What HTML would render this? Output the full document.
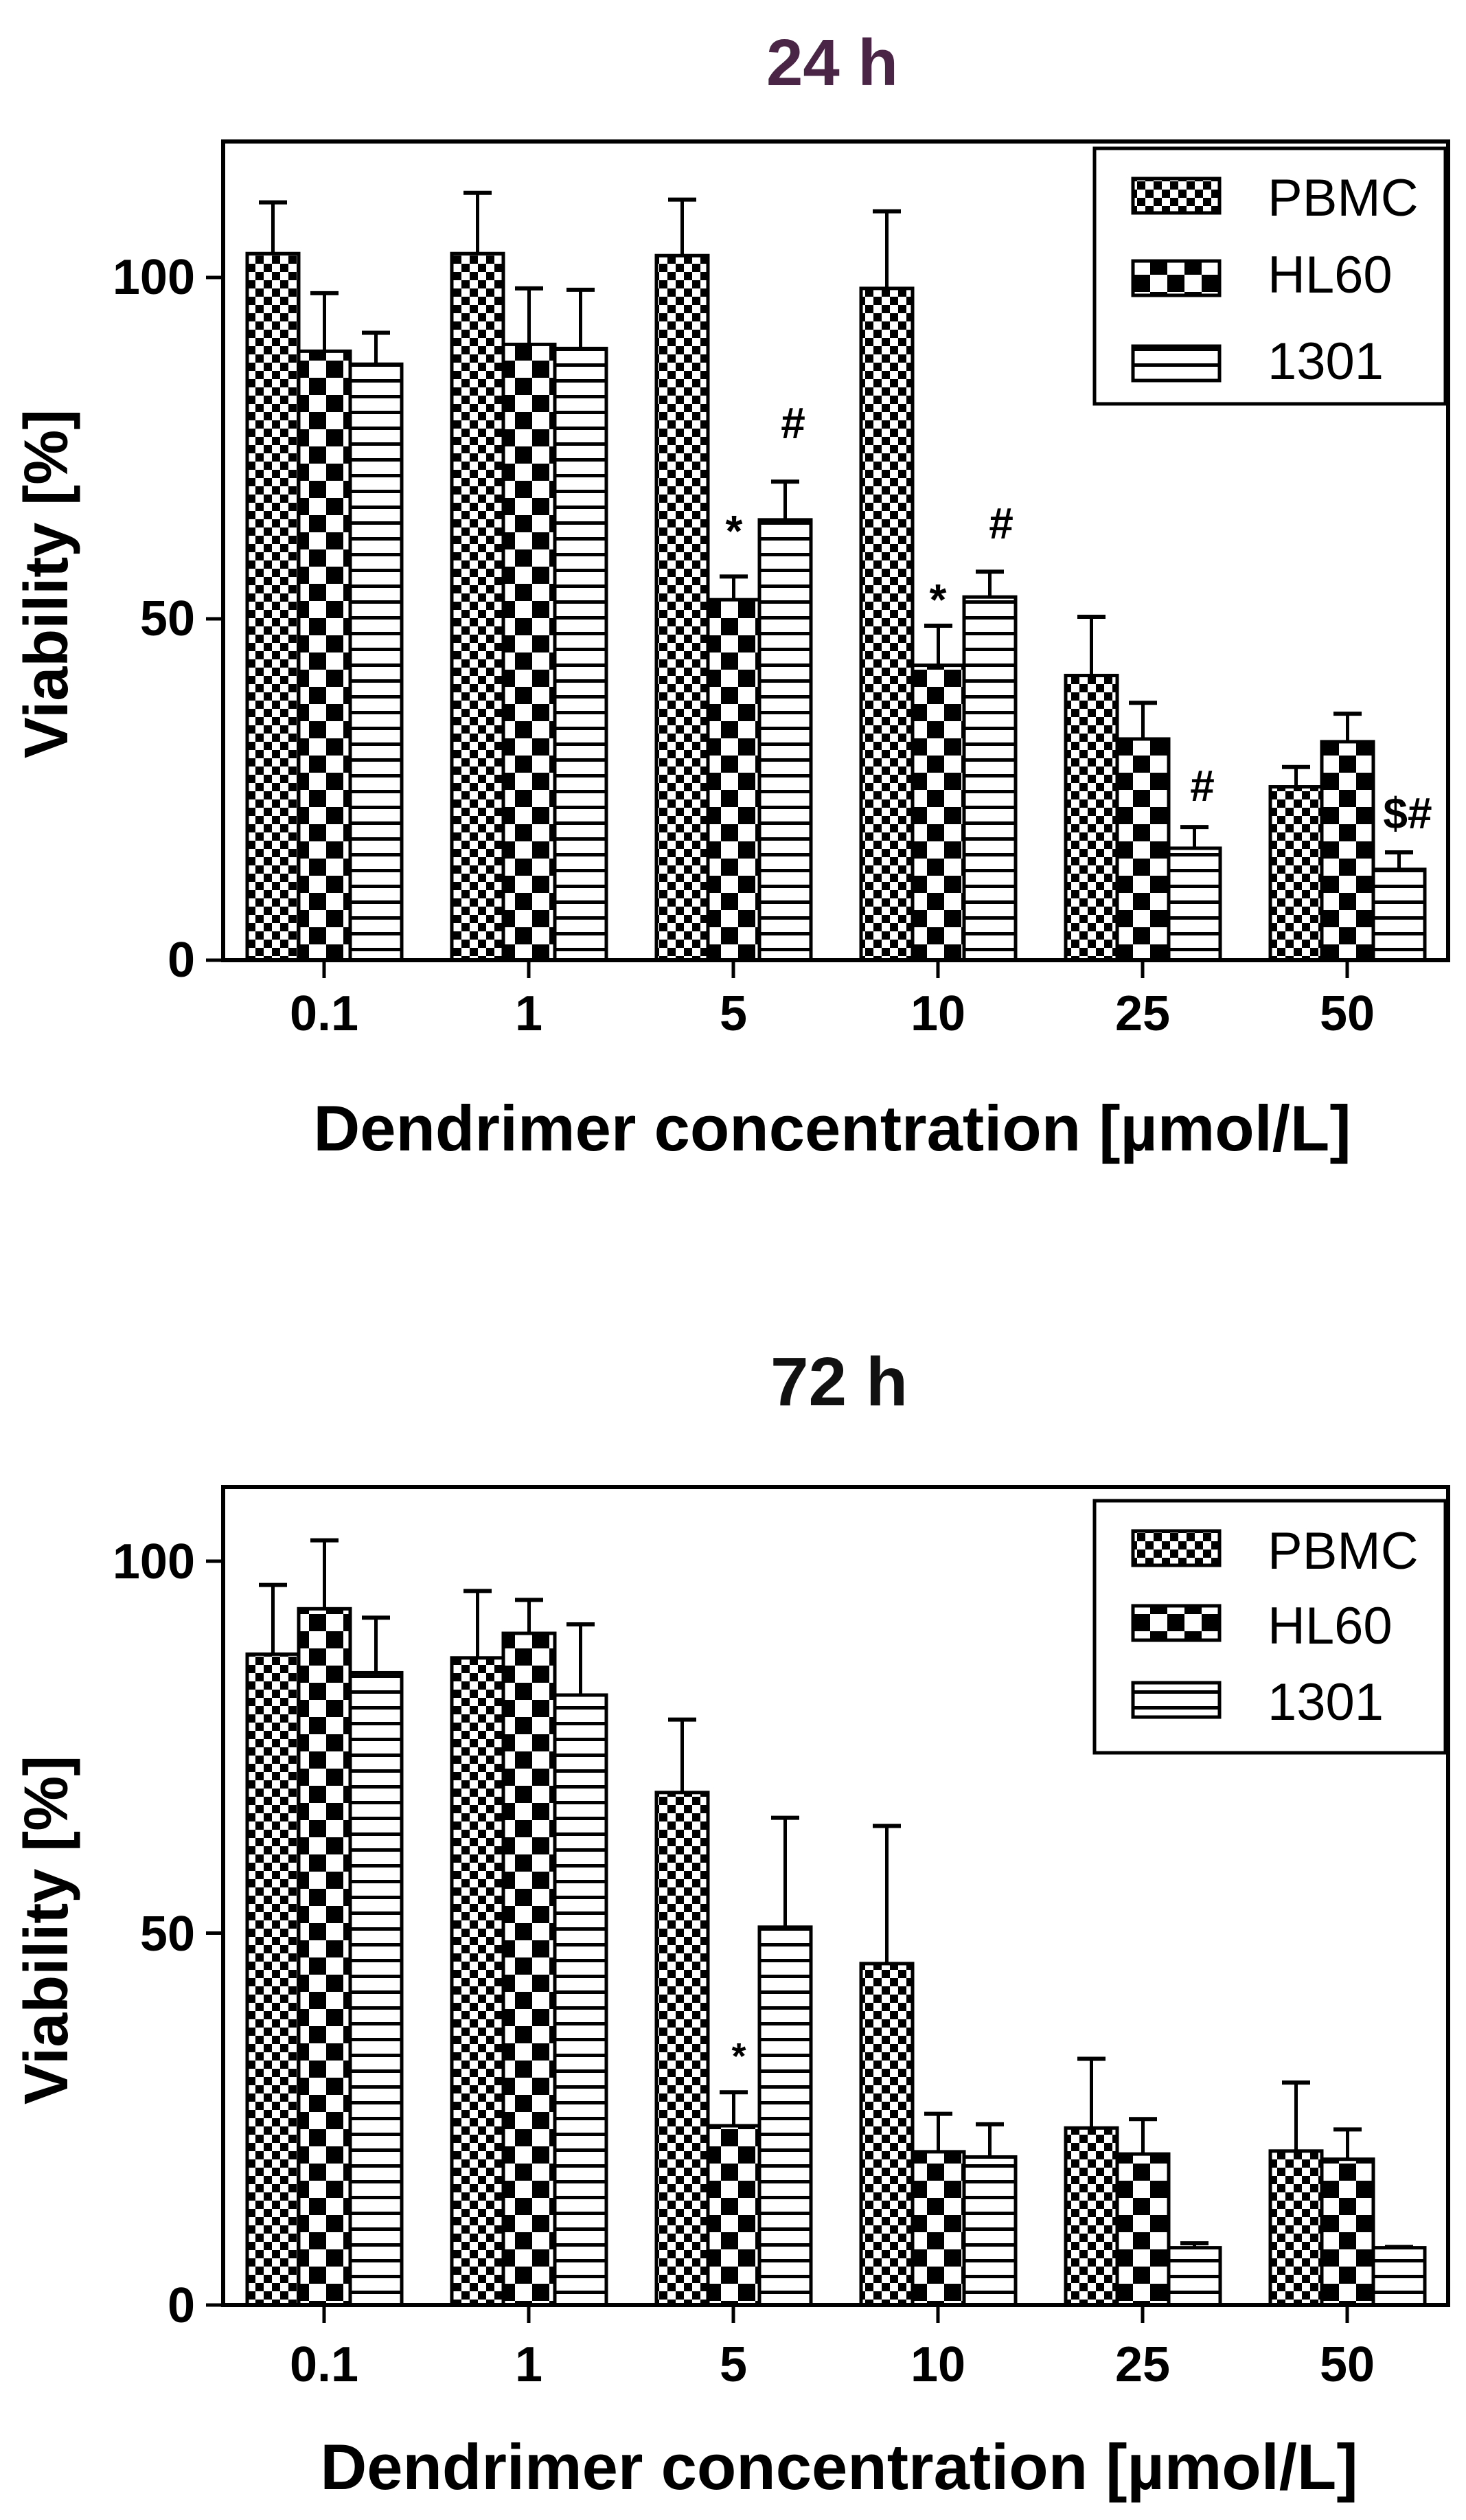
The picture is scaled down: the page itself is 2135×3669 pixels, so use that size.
<!DOCTYPE html>
<html><head><meta charset="utf-8"><style>
html,body{margin:0;padding:0;background:#fff;}
svg{display:block;}
text{font-family:"Liberation Sans",Arial,sans-serif;}
</style></head><body>
<svg id="s" width="2135" height="3669" viewBox="0 0 2135 3669" xmlns="http://www.w3.org/2000/svg">
<defs>
<pattern id="pb" width="24" height="24" patternUnits="userSpaceOnUse">
<rect width="24" height="24" fill="#fff"/>
<rect x="0" y="0" width="12" height="12" fill="#000"/>
<rect x="12" y="12" width="12" height="12" fill="#000"/>
<rect x="3" y="3" width="6" height="6" fill="#000"/>
</pattern>
<pattern id="hl" width="50" height="50" patternUnits="userSpaceOnUse">
<rect width="50" height="50" fill="#fff"/>
<rect x="0" y="0" width="25" height="25" fill="#000"/>
<rect x="25" y="25" width="25" height="25" fill="#000"/>
</pattern>
<pattern id="st" width="24" height="23" patternUnits="userSpaceOnUse">
<rect width="24" height="23" fill="#fff"/>
<rect x="0" y="0" width="24" height="5" fill="#000"/>
</pattern>
</defs>

<!-- 24 h -->
<text x="1212" y="124" font-size="96" font-weight="bold" fill="#4a2545" text-anchor="middle">24 h</text>
<g id="c1"></g>
<text transform="translate(98,850) rotate(-90)" font-size="90" font-weight="bold" text-anchor="middle">Viability [%]</text>
<g font-size="72" font-weight="bold" text-anchor="end">
<text x="284" y="428">100</text><text x="284" y="925">50</text><text x="284" y="1422">0</text>
</g>
<g font-size="72" font-weight="bold" text-anchor="middle">
<text x="472" y="1500">0.1</text><text x="770" y="1500">1</text><text x="1068" y="1500">5</text>
<text x="1366" y="1500">10</text><text x="1664" y="1500">25</text><text x="1962" y="1500">50</text>
</g>
<text x="1212" y="1675" font-size="94" font-weight="bold" text-anchor="middle">Dendrimer concentration [µmol/L]</text>
<g font-size="64" font-weight="bold" text-anchor="middle">
<text x="1069" y="795">*</text><text x="1155" y="638">#</text>
<text x="1366" y="895">*</text><text x="1458" y="784">#</text>
<text x="1751" y="1166">#</text><text x="2050" y="1206">$#</text>
</g>
<g font-size="76">
<text x="1846" y="314">PBMC</text><text x="1846" y="426">HL60</text><text x="1846" y="552">1301</text>
</g>

<!-- 72 h -->
<text x="1222" y="2046" font-size="100" font-weight="bold" fill="#111" text-anchor="middle">72 h</text>
<g id="c2"></g>
<text transform="translate(98,2810) rotate(-90)" font-size="90" font-weight="bold" text-anchor="middle">Viability [%]</text>
<g font-size="72" font-weight="bold" text-anchor="end">
<text x="284" y="2298">100</text><text x="284" y="2840">50</text><text x="284" y="3381">0</text>
</g>
<g font-size="72" font-weight="bold" text-anchor="middle">
<text x="472" y="3467">0.1</text><text x="770" y="3467">1</text><text x="1068" y="3467">5</text>
<text x="1366" y="3467">10</text><text x="1664" y="3467">25</text><text x="1962" y="3467">50</text>
</g>
<text x="1222" y="3624" font-size="94" font-weight="bold" text-anchor="middle">Dendrimer concentration [µmol/L]</text>
<text x="1076" y="3012" font-size="54" font-weight="bold" text-anchor="middle">*</text>
<g font-size="76">
<text x="1846" y="2284">PBMC</text><text x="1846" y="2393">HL60</text><text x="1846" y="2504">1301</text>
</g>
</svg>
<script>
var NS="http://www.w3.org/2000/svg";
function el(p,n,a){var e=document.createElementNS(NS,n);for(var k in a)e.setAttribute(k,a[k]);p.appendChild(e);return e;}
function chart(g,top,y0,ppu,vals,errs,leg){
  var pats=["url(#pb)","url(#hl)","url(#st)"];
  for(var gi=0;gi<6;gi++){
    var c=472+298*gi;
    for(var s=0;s<3;s++){
      var x=c-112+75*s, v=vals[s][gi], e=errs[s][gi];
      var yv=y0-v*ppu, ye=y0-e*ppu;
      el(g,"line",{x1:x+37.5,y1:ye,x2:x+37.5,y2:yv,stroke:"#000","stroke-width":5});
      el(g,"line",{x1:x+17,y1:ye,x2:x+58,y2:ye,stroke:"#000","stroke-width":6});
      el(g,"rect",{x:x,y:yv,width:75,height:y0-yv,fill:pats[s],stroke:"#000","stroke-width":5});
    }
    el(g,"line",{x1:c,y1:y0,x2:c,y2:y0+26,stroke:"#000","stroke-width":5});
  }
  el(g,"path",{d:"M325 "+y0+" V"+top+" H2109 V"+y0,fill:"none",stroke:"#000","stroke-width":6});
  el(g,"line",{x1:322,y1:y0,x2:2112,y2:y0,stroke:"#000","stroke-width":6});
  [0,50,100].forEach(function(t){var y=y0-t*ppu;el(g,"line",{x1:300,y1:y,x2:325,y2:y,stroke:"#000","stroke-width":5});});
  el(g,"rect",{x:1594,y:leg[0],width:511,height:leg[1]-leg[0],fill:"#fff",stroke:"#000","stroke-width":5});
  var rows=leg[2];
  for(var s=0;s<3;s++)el(g,"rect",{x:1650,y:rows[s],width:126,height:50,fill:pats[s],stroke:"#000","stroke-width":5});
}
chart(document.getElementById("c1"),206,1398,9.94,
 [[103.5,103.5,103.2,98.4,41.7,25.4],[89.2,90.2,52.8,43.2,32.4,32.0],[87.3,89.6,64.5,53.2,16.4,13.3]],
 [[111,112.4,111.4,109.7,50.3,28.3],[97.7,98.4,56.2,49,37.7,36.1],[91.9,98.2,70.1,56.9,19.5,15.8]],
 [216,588,[260,380,504]]);
chart(document.getElementById("c2"),2165,3356,10.83,
 [[87.5,87.0,68.9,45.9,23.8,20.7],[93.6,90.3,24.1,20.6,20.3,19.6],[85.0,82.0,50.8,19.9,7.7,7.7]],
 [[96.8,96.0,78.7,64.4,33.1,29.9],[102.8,94.8,28.6,25.7,25.0,23.6],[92.4,91.5,65.5,24.3,8.3,7.8]],
 [2185,2552,[2229,2338,2450]]);
</script>
</body></html>
